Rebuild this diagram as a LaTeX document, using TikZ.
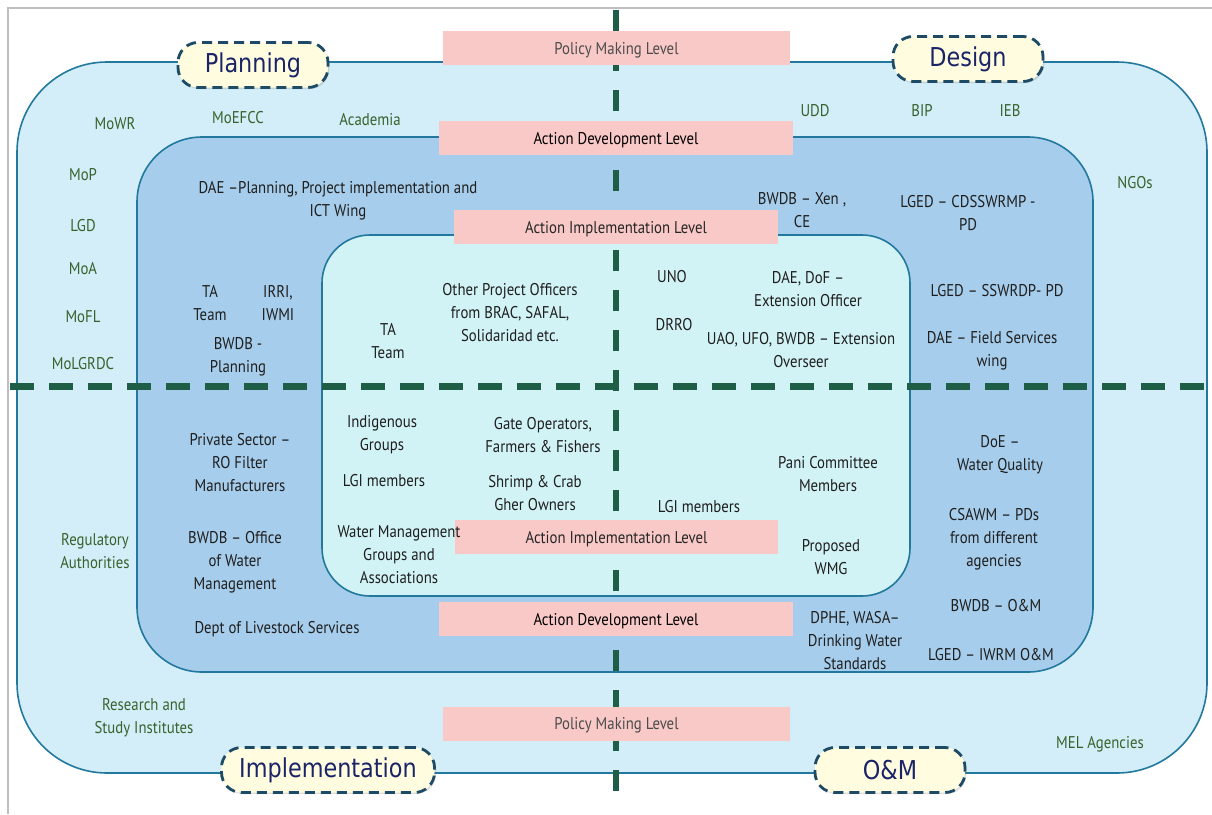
\documentclass[tikz,border=0pt]{standalone}
\usepackage{fontspec}
\setmainfont{PT Sans}[FakeStretch=0.87]
\newfontfamily\tagfont{DejaVu Sans}[FakeStretch=0.86]
\usetikzlibrary{positioning,shadows}
\definecolor{outfill}{HTML}{D3EEF9}
\definecolor{midfill}{HTML}{A6CDEB}
\definecolor{infill}{HTML}{D2F3F5}
\definecolor{ringline}{HTML}{23789E}
\definecolor{lvlpink}{HTML}{F8C9C7}
\definecolor{splitgreen}{HTML}{1F5E46}
\definecolor{outtext}{HTML}{37622B}
\definecolor{midtext}{HTML}{1E1E1E}
\definecolor{tagfill}{HTML}{FFFCE0}
\definecolor{tagline}{HTML}{1D4B66}
\definecolor{tagtext}{HTML}{1A2466}
\newcommand\lbl{\fontsize{17}{23}\selectfont}

\begin{document}
\begin{tikzpicture}[x=1pt, y=-1pt,
  ring/.style={draw=ringline, line width=1.6pt},
  lvl/.style={fill=lvlpink, minimum height=34pt, inner sep=0pt, font=\lbl,
    text height=16pt, text depth=4pt},
  outer/.style={text=outtext, font=\lbl, align=center, inner sep=0pt, yshift=-2pt},
  mid/.style={text=midtext, font=\lbl, align=center, inner sep=0pt, yshift=-2pt},
  tag/.style={draw=tagline, fill=tagfill, line width=2.8pt, dash pattern=on 10pt off 6pt,
    rounded corners=20pt, text=tagtext, inner sep=0pt, minimum height=45pt,
    font=\tagfont\fontsize{26}{28}\selectfont,
    drop shadow={shadow xshift=1.5pt, shadow yshift=-1.5pt, opacity=0.25}},
  splitv/.style={draw=splitgreen, line width=6.5pt, dash pattern=on 21pt off 19pt},
  splith/.style={draw=splitgreen, line width=7pt, dash pattern=on 24pt off 15pt}
]
\useasboundingbox (0,0) rectangle (1212,814);
\draw[black!25, line width=1.2pt] (1212,8) -- (8,8) -- (8,814);

\draw[ring, fill=outfill, rounded corners=90pt] (17,62) rectangle (1207,773);
\draw[ring, fill=midfill, rounded corners=65pt] (137,137) rectangle (1093,672);
\draw[ring, fill=infill, rounded corners=48pt] (322,235) rectangle (910,596);

\draw[splitv] (616,10) -- (616,804);
\draw[splith] (10,386) -- (1212,386);

\node[lvl, minimum width=347pt, text=black!70] (pmtop) at (616.5,48) {Policy Making Level};
\node[lvl, minimum width=354pt, text=black] (adtop) at (616,138) {Action Development Level};
\node[lvl, minimum width=324pt, text=black!85] (aitop) at (616,227) {Action Implementation Level};
\node[lvl, minimum width=323pt, text=black!85] (aibot) at (616.5,537) {Action Implementation Level};
\node[lvl, minimum width=354pt, text=black] (adbot) at (616,619) {Action Development Level};
\node[lvl, minimum width=347pt, text=black!70] (pmbot) at (616.5,723.5) {Policy Making Level};

\node[outer] (mowr) at (115,122) {MoWR};
\node[outer] (moefcc) at (238,116) {MoEFCC};
\node[outer] (academia) at (370,118) {Academia};
\node[outer] (mop) at (83,173) {MoP};
\node[outer] (lgd) at (83,224) {LGD};
\node[outer] (moa) at (83,267) {MoA};
\node[outer] (mofl) at (83,315) {MoFL};
\node[outer] (molgrdc) at (83,362) {MoLGRDC};
\node[outer] (udd) at (815,109) {UDD};
\node[outer] (bip) at (922,109) {BIP};
\node[outer] (ieb) at (1010,109) {IEB};
\node[outer] (ngos) at (1135,181) {NGOs};
\node[outer] (regauth) at (95,549) {Regulatory\\Authorities};
\node[outer] (research) at (144,716) {Research and\\Study Institutes};
\node[outer] (mel) at (1100,742) {MEL Agencies};

\node[mid] (daeplan) at (338,199) {DAE –Planning, Project implementation and\\ICT Wing};
\node[mid] (tamid) at (210,301) {TA\\Team};
\node[mid] (irri) at (278,301) {IRRI,\\IWMI};
\node[mid] (bwdbplan) at (238,355) {BWDB -\\Planning};
\node[mid] (bwdbxen) at (802,208) {BWDB – Xen ,\\CE};
\node[mid] (cdsswrmp) at (968,211) {LGED – CDSSWRMP -\\PD};
\node[mid] (sswrdp) at (997,289) {LGED – SSWRDP- PD};
\node[mid] (daefield) at (992,349) {DAE – Field Services\\wing};
\node[mid] (private) at (240,461) {Private Sector –\\RO Filter\\Manufacturers};
\node[mid] (bwdbwater) at (235,560) {BWDB – Office\\of Water\\Management};
\node[mid] (livestock) at (277,627) {Dept of Livestock Services};
\node[mid] (dphe) at (855,639) {DPHE, WASA–\\Drinking Water\\Standards};
\node[mid] (doe) at (1000,453) {DoE –\\Water Quality};
\node[mid] (csawm) at (994,537) {CSAWM – PDs\\from different\\agencies};
\node[mid] (bwdbom) at (996,604) {BWDB – O\&M};
\node[mid] (iwrm) at (991,653) {LGED – IWRM O\&M};

\node[mid] (tain) at (388,339) {TA\\Team};
\node[mid] (officers) at (510,311) {Other Project Officers\\from BRAC, SAFAL,\\Solidaridad etc.};
\node[mid] (uno) at (672,275) {UNO};
\node[mid] (drro) at (674,323) {DRRO};
\node[mid] (daedof) at (808,287) {DAE, DoF –\\Extension Officer};
\node[mid] (uao) at (801,348) {UAO, UFO, BWDB – Extension\\Overseer};
\node[mid] (indigenous) at (382,433) {Indigenous\\Groups};
\node[mid] (gate) at (543,433) {Gate Operators,\\Farmers \& Fishers};
\node[mid] (lgileft) at (384,479) {LGI members};
\node[mid] (shrimp) at (535,491) {Shrimp \& Crab\\Gher Owners};
\node[mid] (lgiright) at (699,505) {LGI members};
\node[mid] (pani) at (828,472) {Pani Committee\\Members};
\node[mid] (wmg) at (399,553) {Water Management\\Groups and\\Associations};
\node[mid] (propwmg) at (831,555) {Proposed\\WMG};

\node[tag, minimum width=150pt] (planning) at (253,65) {Planning};
\node[tag, minimum width=150pt] (design) at (968,59) {Design};
\node[tag, minimum width=213pt] (implementation) at (328,770) {Implementation};
\node[tag, minimum width=150pt] (om) at (890,770) {O\&M};
\end{tikzpicture}
\end{document}
